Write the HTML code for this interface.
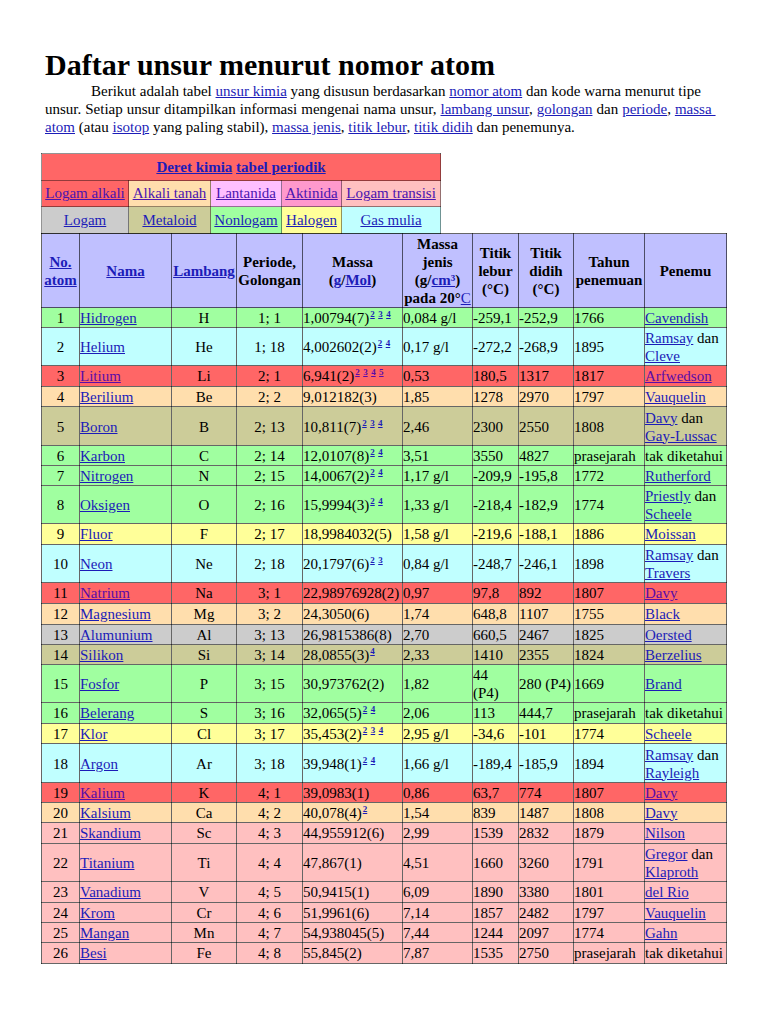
<!DOCTYPE html>
<html lang="id"><head><meta charset="utf-8"><title>Daftar unsur menurut nomor atom</title>
<style>
html,body{margin:0;padding:0;background:#fff}
body{width:768px;height:1024px;overflow:hidden;position:relative;font-family:"Liberation Serif","Times New Roman",serif;color:#000}
a{color:#1c1cb8;text-decoration:underline}
a.v{color:#4a14b0}
tr.al a{color:#5a0ca8}
h1{position:absolute;left:45px;top:47px;margin:0;font-size:30px;line-height:36px;font-weight:bold;white-space:nowrap}
p.intro{position:absolute;left:45px;top:82px;width:680px;margin:0;font-size:15px;line-height:18px;text-indent:46px;white-space:nowrap}
.l2{word-spacing:.25px}
table{border-collapse:collapse;position:absolute;font-size:15px}
td,th{border:1px solid rgba(0,0,0,.6);padding:0;line-height:17px}
#legend{left:41px;top:153px;width:399px;table-layout:fixed}
#legend td{text-align:center;height:25px;padding:0;white-space:nowrap;border-color:rgba(0,0,0,.42)}
#main{left:41px;top:233px;width:685px;table-layout:fixed}
#main th{background:#c0c0ff;font-weight:bold;font-size:15px;line-height:18px;height:73px;padding:0 1px;text-align:center}
#main td{white-space:nowrap;overflow:hidden;padding-top:1px}

#main td.c{text-align:center}
#main tr.two td{line-height:18px}
sup{font-size:9px;line-height:0;vertical-align:6px;font-weight:bold;word-spacing:1.2px;margin-left:1px}
tr.nm td{background:#a0ffa0}
tr.ng td{background:#c0ffff}
tr.al td{background:#ff6666}
tr.ae td{background:#ffdead}
tr.md td{background:#cccc99}
tr.ha td{background:#ffff99}
tr.me td{background:#cccccc}
tr.tm td{background:#ffc0c0}
</style></head><body>
<h1>Daftar unsur menurut nomor atom</h1>
<p class="intro">Berikut adalah tabel <a href="#">unsur kimia</a> yang disusun berdasarkan <a href="#">nomor atom</a> dan kode warna menurut tipe<br><span class="l2">unsur. Setiap unsur ditampilkan informasi mengenai nama unsur, <a href="#">lambang unsur</a>, <a href="#">golongan</a> dan <a href="#">periode</a>, <a href="#">massa&nbsp;</a></span><br><a href="#">atom</a> (atau <a href="#">isotop</a> yang paling stabil), <a href="#">massa jenis</a>, <a href="#">titik lebur</a>, <a href="#">titik didih</a> dan penemunya.</p>
<table id="legend"><colgroup><col style="width:87px"><col style="width:82px"><col style="width:71px"><col style="width:60px"><col style="width:99px"></colgroup>
<tr style="height:27px"><td colspan="5" style="background:#ff6666;font-weight:bold"><a href="#">Deret kimia</a> <a href="#">tabel periodik</a></td></tr>
<tr style="height:26px"><td style="background:#ff6666"><a class="v" href="#">Logam alkali</a></td><td style="background:#ffdead"><a class="v" href="#">Alkali tanah</a></td><td style="background:#ffbfff"><a class="v" href="#">Lantanida</a></td><td style="background:#ff99cc"><a class="v" href="#">Aktinida</a></td><td style="background:#ffc0c0"><a class="v" href="#">Logam transisi</a></td></tr>
<tr style="height:27px"><td style="background:#cccccc"><a href="#">Logam</a></td><td style="background:#cccc99"><a href="#">Metaloid</a></td><td style="background:#a0ffa0"><a href="#">Nonlogam</a></td><td style="background:#ffff99"><a href="#">Halogen</a></td><td style="background:#c0ffff"><a href="#">Gas mulia</a></td></tr>
</table>
<table id="main">
<colgroup><col style="width:38px"><col style="width:92px"><col style="width:65px"><col style="width:66px"><col style="width:100px"><col style="width:70px"><col style="width:46px"><col style="width:55px"><col style="width:71px"><col style="width:82px"></colgroup>
<tr><th><a href="#">No. atom</a></th><th><a href="#">Nama</a></th><th><a href="#">Lambang</a></th><th>Periode, Golongan</th><th>Massa<br>(<a href="#">g</a>/<a href="#">Mol</a>)</th><th>Massa jenis<br>(g/<a href="#">cm³</a>)<br>pada 20°<a href="#" style="font-weight:normal">C</a></th><th>Titik lebur<br>(°C)</th><th>Titik didih<br>(°C)</th><th>Tahun penemuan</th><th>Penemu</th></tr>
<tr style="height:20px" class="nm"><td class="c">1</td><td><a href="#">Hidrogen</a></td><td class="c">H</td><td class="c">1; 1</td><td>1,00794(7)<sup><a href="#">2</a> <a href="#">3</a> <a href="#">4</a></sup></td><td>0,084 g/l</td><td>-259,1</td><td>-252,9</td><td>1766</td><td><a href="#">Cavendish</a></td></tr>
<tr style="height:38px" class="ng two"><td class="c">2</td><td><a href="#">Helium</a></td><td class="c">He</td><td class="c">1; 18</td><td>4,002602(2)<sup><a href="#">2</a> <a href="#">4</a></sup></td><td>0,17 g/l</td><td>-272,2</td><td>-268,9</td><td>1895</td><td><a href="#">Ramsay</a> dan<br><a href="#">Cleve</a></td></tr>
<tr style="height:21px" class="al"><td class="c">3</td><td><a href="#">Litium</a></td><td class="c">Li</td><td class="c">2; 1</td><td>6,941(2)<sup><a href="#">2</a> <a href="#">3</a> <a href="#">4</a> <a href="#">5</a></sup></td><td>0,53</td><td>180,5</td><td>1317</td><td>1817</td><td><a href="#">Arfwedson</a></td></tr>
<tr style="height:20px" class="ae"><td class="c">4</td><td><a href="#">Berilium</a></td><td class="c">Be</td><td class="c">2; 2</td><td>9,012182(3)</td><td>1,85</td><td>1278</td><td>2970</td><td>1797</td><td><a href="#">Vauquelin</a></td></tr>
<tr style="height:39px" class="md two"><td class="c">5</td><td><a href="#">Boron</a></td><td class="c">B</td><td class="c">2; 13</td><td>10,811(7)<sup><a href="#">2</a> <a href="#">3</a> <a href="#">4</a></sup></td><td>2,46</td><td>2300</td><td>2550</td><td>1808</td><td><a href="#">Davy</a> dan<br><a href="#">Gay-Lussac</a></td></tr>
<tr style="height:20px" class="nm"><td class="c">6</td><td><a href="#">Karbon</a></td><td class="c">C</td><td class="c">2; 14</td><td>12,0107(8)<sup><a href="#">2</a> <a href="#">4</a></sup></td><td>3,51</td><td>3550</td><td>4827</td><td>prasejarah</td><td>tak diketahui</td></tr>
<tr style="height:20px" class="nm"><td class="c">7</td><td><a href="#">Nitrogen</a></td><td class="c">N</td><td class="c">2; 15</td><td>14,0067(2)<sup><a href="#">2</a> <a href="#">4</a></sup></td><td>1,17 g/l</td><td>-209,9</td><td>-195,8</td><td>1772</td><td><a href="#">Rutherford</a></td></tr>
<tr style="height:38px" class="nm two"><td class="c">8</td><td><a href="#">Oksigen</a></td><td class="c">O</td><td class="c">2; 16</td><td>15,9994(3)<sup><a href="#">2</a> <a href="#">4</a></sup></td><td>1,33 g/l</td><td>-218,4</td><td>-182,9</td><td>1774</td><td><a href="#">Priestly</a> dan<br><a href="#">Scheele</a></td></tr>
<tr style="height:21px" class="ha"><td class="c">9</td><td><a href="#">Fluor</a></td><td class="c">F</td><td class="c">2; 17</td><td>18,9984032(5)</td><td>1,58 g/l</td><td>-219,6</td><td>-188,1</td><td>1886</td><td><a href="#">Moissan</a></td></tr>
<tr style="height:38px" class="ng two"><td class="c">10</td><td><a href="#">Neon</a></td><td class="c">Ne</td><td class="c">2; 18</td><td>20,1797(6)<sup><a href="#">2</a> <a href="#">3</a></sup></td><td>0,84 g/l</td><td>-248,7</td><td>-246,1</td><td>1898</td><td><a href="#">Ramsay</a> dan<br><a href="#">Travers</a></td></tr>
<tr style="height:21px" class="al"><td class="c">11</td><td><a href="#">Natrium</a></td><td class="c">Na</td><td class="c">3; 1</td><td>22,98976928(2)</td><td>0,97</td><td>97,8</td><td>892</td><td>1807</td><td><a href="#">Davy</a></td></tr>
<tr style="height:21px" class="ae"><td class="c">12</td><td><a href="#">Magnesium</a></td><td class="c">Mg</td><td class="c">3; 2</td><td>24,3050(6)</td><td>1,74</td><td>648,8</td><td>1107</td><td>1755</td><td><a href="#">Black</a></td></tr>
<tr style="height:20px" class="me"><td class="c">13</td><td><a href="#">Alumunium</a></td><td class="c">Al</td><td class="c">3; 13</td><td>26,9815386(8)</td><td>2,70</td><td>660,5</td><td>2467</td><td>1825</td><td><a href="#">Oersted</a></td></tr>
<tr style="height:20px" class="md"><td class="c">14</td><td><a href="#">Silikon</a></td><td class="c">Si</td><td class="c">3; 14</td><td>28,0855(3)<sup><a href="#">4</a></sup></td><td>2,33</td><td>1410</td><td>2355</td><td>1824</td><td><a href="#">Berzelius</a></td></tr>
<tr style="height:38px" class="nm two"><td class="c">15</td><td><a href="#">Fosfor</a></td><td class="c">P</td><td class="c">3; 15</td><td>30,973762(2)</td><td>1,82</td><td>44<br>(P4)</td><td>280 (P4)</td><td>1669</td><td><a href="#">Brand</a></td></tr>
<tr style="height:21px" class="nm"><td class="c">16</td><td><a href="#">Belerang</a></td><td class="c">S</td><td class="c">3; 16</td><td>32,065(5)<sup><a href="#">2</a> <a href="#">4</a></sup></td><td>2,06</td><td>113</td><td>444,7</td><td>prasejarah</td><td>tak diketahui</td></tr>
<tr style="height:20px" class="ha"><td class="c">17</td><td><a href="#">Klor</a></td><td class="c">Cl</td><td class="c">3; 17</td><td>35,453(2)<sup><a href="#">2</a> <a href="#">3</a> <a href="#">4</a></sup></td><td>2,95 g/l</td><td>-34,6</td><td>-101</td><td>1774</td><td><a href="#">Scheele</a></td></tr>
<tr style="height:39px" class="ng two"><td class="c">18</td><td><a href="#">Argon</a></td><td class="c">Ar</td><td class="c">3; 18</td><td>39,948(1)<sup><a href="#">2</a> <a href="#">4</a></sup></td><td>1,66 g/l</td><td>-189,4</td><td>-185,9</td><td>1894</td><td><a href="#">Ramsay</a> dan<br><a href="#">Rayleigh</a></td></tr>
<tr style="height:20px" class="al"><td class="c">19</td><td><a href="#">Kalium</a></td><td class="c">K</td><td class="c">4; 1</td><td>39,0983(1)</td><td>0,86</td><td>63,7</td><td>774</td><td>1807</td><td><a href="#">Davy</a></td></tr>
<tr style="height:20px" class="ae"><td class="c">20</td><td><a href="#">Kalsium</a></td><td class="c">Ca</td><td class="c">4; 2</td><td>40,078(4)<sup><a href="#">2</a></sup></td><td>1,54</td><td>839</td><td>1487</td><td>1808</td><td><a href="#">Davy</a></td></tr>
<tr style="height:21px" class="tm"><td class="c">21</td><td><a href="#">Skandium</a></td><td class="c">Sc</td><td class="c">4; 3</td><td>44,955912(6)</td><td>2,99</td><td>1539</td><td>2832</td><td>1879</td><td><a href="#">Nilson</a></td></tr>
<tr style="height:38px" class="tm two"><td class="c">22</td><td><a href="#">Titanium</a></td><td class="c">Ti</td><td class="c">4; 4</td><td>47,867(1)</td><td>4,51</td><td>1660</td><td>3260</td><td>1791</td><td><a href="#">Gregor</a> dan<br><a href="#">Klaproth</a></td></tr>
<tr style="height:21px" class="tm"><td class="c">23</td><td><a href="#">Vanadium</a></td><td class="c">V</td><td class="c">4; 5</td><td>50,9415(1)</td><td>6,09</td><td>1890</td><td>3380</td><td>1801</td><td><a href="#">del Rio</a></td></tr>
<tr style="height:20px" class="tm"><td class="c">24</td><td><a href="#">Krom</a></td><td class="c">Cr</td><td class="c">4; 6</td><td>51,9961(6)</td><td>7,14</td><td>1857</td><td>2482</td><td>1797</td><td><a href="#">Vauquelin</a></td></tr>
<tr style="height:20px" class="tm"><td class="c">25</td><td><a href="#">Mangan</a></td><td class="c">Mn</td><td class="c">4; 7</td><td>54,938045(5)</td><td>7,44</td><td>1244</td><td>2097</td><td>1774</td><td><a href="#">Gahn</a></td></tr>
<tr style="height:21px" class="tm"><td class="c">26</td><td><a href="#">Besi</a></td><td class="c">Fe</td><td class="c">4; 8</td><td>55,845(2)</td><td>7,87</td><td>1535</td><td>2750</td><td>prasejarah</td><td>tak diketahui</td></tr>
</table>
</body></html>
